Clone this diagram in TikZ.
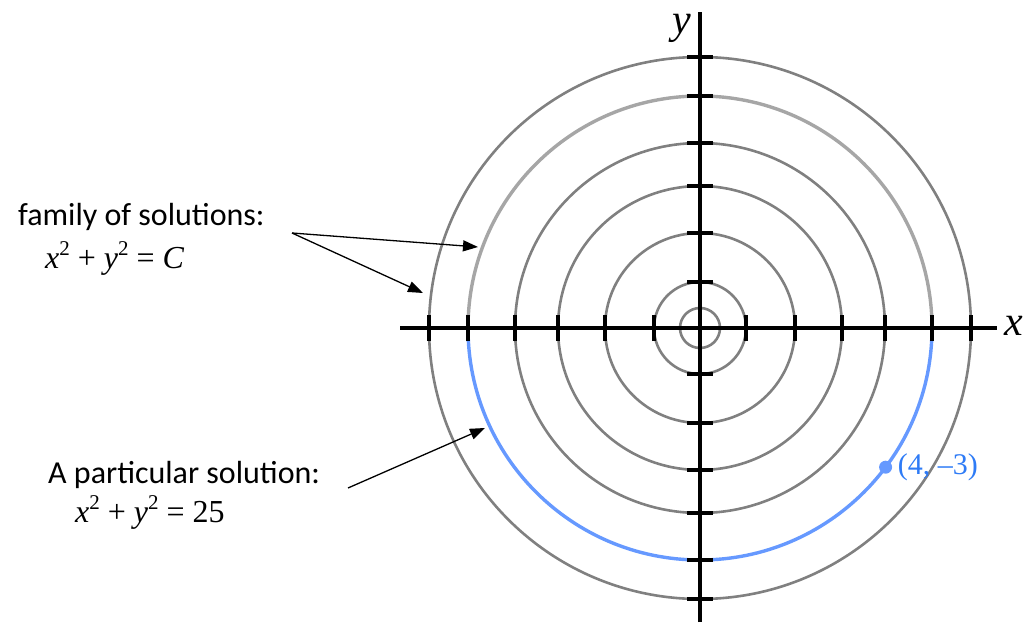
\documentclass[tikz,border=0pt]{standalone}
\usepackage{fontspec}
\setmainfont{Carlito}
\newfontfamily\tnr{Liberation Serif}
\usetikzlibrary{arrows.meta}
\definecolor{circgray}{HTML}{808080}
\definecolor{lightgray2}{HTML}{A6A6A6}
\definecolor{arcblue}{HTML}{6699FF}
\definecolor{lblblue}{HTML}{2E7BF6}
\newcommand\sqtwo{\raisebox{0.4em}{\tnr\fontsize{21}{21}\selectfont 2}}
\newcommand\tnrtext[1]{{\tnr\fontsize{32}{38}\selectfont #1}}
\begin{document}
\begin{tikzpicture}[x=1pt,y=1pt,
  circ/.style={draw=circgray, line width=2.6pt},
  bigcirc/.style={line width=3.4pt},
  axisline/.style={line width=4pt, black},
  tickmark/.style={line width=4.5pt, black},
  arr/.style={line width=1.3pt, -{Triangle[length=15pt,width=11pt]}},
  lbl/.style={font=\fontsize{32}{38}\selectfont, inner sep=0pt, anchor=base west},
  mlbl/.style={inner sep=0pt, anchor=base west},
  axlbl/.style={inner sep=0pt},
]
\useasboundingbox (0,0) rectangle (1024,622);
\coordinate (O) at (700,294);
% circles
\foreach \r in {20,46,95,142,185,271} \draw[circ] (O) circle (\r);
\draw[circ, bigcirc, draw=lightgray2] ([shift={(0:232)}]O) arc (0:180:232);
\draw[circ, bigcirc, draw=arcblue] ([shift={(180:232)}]O) arc (180:360:232);
% axes
\coordinate (xl) at (400,294);
\coordinate (xr) at (997,294);
\coordinate (yt) at (700,610);
\coordinate (yb) at (700,0);
\draw[axisline] (xl) -- (xr);
\draw[axisline] (yb) -- (yt);
% ticks
\foreach \r in {46,95,142,185,232,271} {
  \draw[tickmark] ([shift={(\r,-13)}]O) -- ++(0,26);
  \draw[tickmark] ([shift={(-\r,-13)}]O) -- ++(0,26);
  \draw[tickmark] ([shift={(-13,\r)}]O) -- ++(26,0);
  \draw[tickmark] ([shift={(-13,-\r)}]O) -- ++(26,0);
}
\node[axlbl] (ylbl) at (682,594) {\tnr\itshape\fontsize{42}{48}\selectfont y};
\node[axlbl, anchor=east] (xlbl) at (1023,296) {\tnr\itshape\fontsize{42}{48}\selectfont x};
% particular point
\coordinate (P) at ([shift={(-36.87:232)}]O);
\fill[arcblue] (P) circle (6.5);
\node[anchor=west, text=lblblue, inner sep=0pt] (Plbl) at ([xshift=12pt]P) {\tnr\fontsize{30}{36}\selectfont (4, –3)};
% texts
\node[lbl] (fam) at (18,396) {family of solutions:};
\node[mlbl] (famf) at (45,354) {\tnrtext{\textit{x}\sqtwo{} + \textit{y}\sqtwo{} = \textit{C}}};
\node[lbl] (part) at (48,139) {A particular solution:};
\node[mlbl] (partf) at (75,100) {\tnrtext{\textit{x}\sqtwo{} + \textit{y}\sqtwo{} = 25}};
% arrows
\coordinate (fa) at (292,389);
\coordinate (fa1) at (478,375);
\coordinate (fa2) at (423,329);
\draw[arr] (fa) -- (fa1);
\draw[arr] (fa) -- (fa2);
\coordinate (pa) at (348,134);
\coordinate (pe) at (485,194);
\draw[arr] (pa) -- (pe);
\end{tikzpicture}
\end{document}
